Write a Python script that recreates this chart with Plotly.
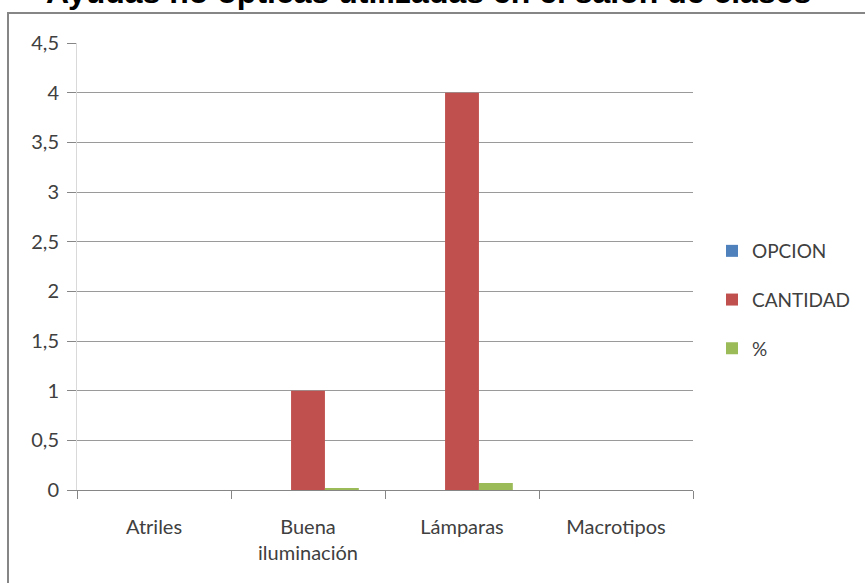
"""Ayudas no ópticas utilizadas en el salón de clases - grouped bar chart."""

import plotly.graph_objects as go

categories = ["Atriles", "Buena<br>iluminación", "Lámparas", "Macrotipos"]
opcion = [0, 0, 0, 0]
cantidad = [0, 1, 4, 0]
porcentaje = [0, 0.018, 0.07, 0]

y_ticks = [0, 0.5, 1, 1.5, 2, 2.5, 3, 3.5, 4, 4.5]

series = [
    ("OPCION", opcion, "#4F81BD"),
    ("CANTIDAD", cantidad, "#C0504D"),
    ("%", porcentaje, "#9BBB59"),
]

text_font = "Lato, Carlito, Calibri, sans-serif"
text_color = "#404040"

fig = go.Figure()

for name, values, color in series:
    fig.add_trace(
        go.Bar(
            x=categories,
            y=values,
            name=name,
            marker_color=color,
            marker_line_width=0,
            legendgroup=name,
        )
    )

# Chart title, partly cut off at the top of the picture
fig.add_annotation(
    text="<b>Ayudas no ópticas utilizadas en el salón de clases</b>",
    xref="paper",
    yref="paper",
    x=(428 - 77) / 616,
    y=1 + (43 - 12) / 447,
    xanchor="center",
    yanchor="bottom",
    showarrow=False,
    font=dict(family="Liberation Sans, Arial, sans-serif", size=32, color="#000000"),
)

# Outer chart border (left and top edges visible)
fig.add_shape(
    type="rect",
    xref="paper",
    yref="paper",
    x0=(8 - 77) / 616,
    x1=2,
    y0=-1,
    y1=1 + (43 - 13) / 447,
    line=dict(color="#868686", width=2),
    fillcolor="rgba(0,0,0,0)",
    layer="below",
)

fig.update_layout(
    width=865,
    height=583,
    margin=dict(l=77, r=172, t=43, b=93, autoexpand=False),
    plot_bgcolor="white",
    paper_bgcolor="white",
    separators=",.",
    barmode="group",
    bargap=0.34,
    bargroupgap=0,
    showlegend=True,
    legend=dict(
        x=(712 - 77) / 616,
        y=0.5 - 33.5 / 447,
        xanchor="left",
        yanchor="middle",
        font=dict(family=text_font, size=19, color=text_color),
        tracegroupgap=21,
        itemwidth=30,
        bgcolor="rgba(0,0,0,0)",
    ),
    xaxis=dict(
        showgrid=False,
        showline=True,
        linecolor="#868686",
        linewidth=1,
        ticks="outside",
        tickson="boundaries",
        ticklen=8,
        tickcolor="#868686",
        ticklabelstandoff=19,
        tickfont=dict(family=text_font, size=20, color=text_color),
    ),
    yaxis=dict(
        range=[0, 4.5],
        tickvals=y_ticks,
        showgrid=True,
        gridcolor="#9a9a9a",
        gridwidth=1,
        zeroline=False,
        showline=True,
        linecolor="#d9d9d9",
        linewidth=1,
        ticks="outside",
        ticklen=9,
        tickcolor="#868686",
        ticklabelstandoff=4,
        tickfont=dict(family=text_font, size=20, color=text_color),
    ),
)

# Drop the page's default body margin so the figure sits at the window corner
fig.write_html(
    "out.html",
    config={"displayModeBar": False},
    post_script="document.body.style.margin = '0';",
)
